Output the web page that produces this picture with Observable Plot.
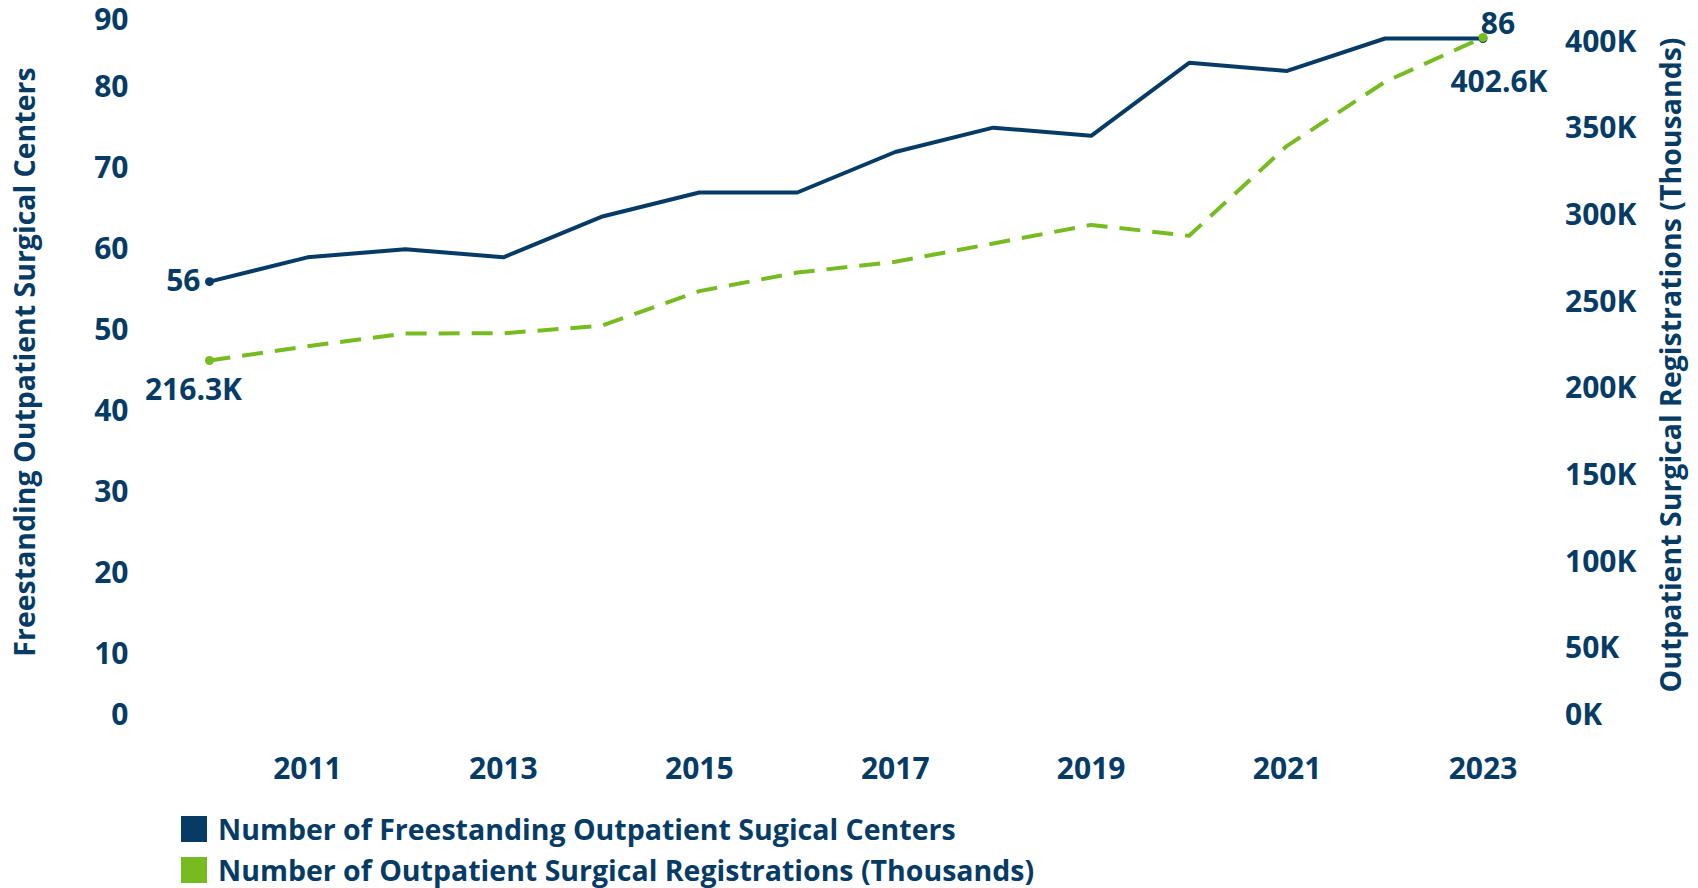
<!DOCTYPE html>
<html>
<head>
<meta charset="utf-8">
<script src="https://cdn.jsdelivr.net/npm/d3@7"></script>
<script src="https://cdn.jsdelivr.net/npm/@observablehq/plot@0.6"></script>
<style>
  html, body { margin: 0; padding: 0; background: #fff; overflow: hidden; }
  body { width: 1698px; height: 888px; position: relative; font-family: "Open Sans", Lato, sans-serif; }
  #chart { position: absolute; left: 0; top: 0; }
  #legend { position: absolute; left: 181px; top: 808px; }
  .row { display: flex; align-items: center; height: 41px; font-size: 28.5px; font-weight: 700; color: #063b66; white-space: nowrap; }
  .sw { width: 26px; height: 26px; margin-right: 11px; flex: none; }
  .ytitle { position: absolute; white-space: nowrap; font-size: 28.5px; font-weight: 700; color: #063b66; transform: translate(-50%, -50%) rotate(-90deg); line-height: 1; }
</style>
</head>
<body>
<div id="chart"></div>
<div id="legend"></div>
<div id="ltitle" class="ytitle" style="left:24px; top:362px;"></div>
<div id="rtitle" class="ytitle" style="left:1670px; top:365px;"></div>
<script>
// ---- data ----
const years = [2010, 2011, 2012, 2013, 2014, 2015, 2016, 2017, 2018, 2019, 2020, 2021, 2022, 2023];
const centers = [56, 59, 60, 59, 64, 67, 67, 72, 75, 74, 83, 82, 86, 86];
const registrations = [216.3, 224.5, 231.9, 232.0, 236.3, 256.3, 267.0, 273.2, 283.8, 294.5, 288.2, 340.1, 377.0, 402.6];
const xTicks = [2011, 2013, 2015, 2017, 2019, 2021, 2023];
const leftTicks = [0, 10, 20, 30, 40, 50, 60, 70, 80, 90];
const rightTicks = [0, 50, 100, 150, 200, 250, 300, 350, 400];
const seriesNames = ["Number of Freestanding Outpatient Sugical Centers", "Number of Outpatient Surgical Registrations (Thousands)"];
const seriesColors = ["#063b66", "#76bc21"];
const leftTitle = "Freestanding Outpatient Surgical Centers";
const rightTitle = "Outpatient Surgical Registrations (Thousands)";
const leftMax = 90;
const rightMax = 420.7;

// ---- build ----
const navy = seriesColors[0], green = seriesColors[1];
const toLeft = v => v * leftMax / rightMax;
const fromLeft = v => Math.round(v * rightMax / leftMax) + "K";
const rows = years.map((y, i) => ({year: y, centers: centers[i], reg: registrations[i], regL: toLeft(registrations[i])}));
const first = rows[0], last = rows[rows.length - 1];

const W = 1698, H = 800;
const font = {fill: navy, fontSize: 30, fontWeight: 700};

const chart = Plot.plot({
  width: W,
  height: H,
  marginLeft: 209,
  marginRight: 215.5,
  marginTop: 5.6,
  marginBottom: H - 735,
  style: {fontFamily: "'Open Sans', Lato, sans-serif", background: "white", color: navy, overflow: "visible"},
  x: {type: "linear", domain: [2010, 2023]},
  y: {type: "linear", domain: [0, leftMax]},
  marks: [
    Plot.axisX(xTicks, {tickSize: 0, tickPadding: 22, tickFormat: d => String(d), label: null, ...font}),
    Plot.axisY(leftTicks.filter(t => t > 0 && t < leftMax), {anchor: "left", tickSize: 0, tickPadding: 81, label: null, ...font}),
    Plot.axisY([0], {anchor: "left", tickSize: 0, tickPadding: 81, label: null, dy: -20, ...font}),
    Plot.axisY([leftMax], {anchor: "left", tickSize: 0, tickPadding: 81, label: null, dy: 14.5, ...font}),
    Plot.axisY(rightTicks.filter(t => t > 0).map(toLeft), {anchor: "right", tickSize: 0, tickPadding: 82, label: null, tickFormat: fromLeft, ...font}),
    Plot.axisY([0], {anchor: "right", tickSize: 0, tickPadding: 82, label: null, dy: -20, tickFormat: fromLeft, ...font}),
    Plot.line(rows, {x: "year", y: "centers", stroke: navy, strokeWidth: 4}),
    Plot.line(rows, {x: "year", y: "regL", stroke: green, strokeWidth: 4, strokeDasharray: "21,12", strokeLinecap: "butt"}),
    Plot.dot([first, last], {x: "year", y: "centers", r: 4.5, fill: navy}),
    Plot.dot([first, last], {x: "year", y: "regL", r: 4.5, fill: green}),
    Plot.text([first], {x: "year", y: "centers", text: d => String(d.centers), textAnchor: "end", dx: -9, ...font}),
    Plot.text([last], {x: "year", y: "centers", text: d => String(d.centers), dx: 15, dy: -14, ...font}),
    Plot.text([first], {x: "year", y: "regL", text: d => d.reg.toFixed(1) + "K", dx: -16, dy: 30, ...font}),
    Plot.text([last], {x: "year", y: "regL", text: d => d.reg.toFixed(1) + "K", dx: 16, dy: 45, ...font})
  ]
});
document.getElementById("chart").append(chart);

document.getElementById("ltitle").textContent = leftTitle;
document.getElementById("rtitle").textContent = rightTitle;

const legend = document.getElementById("legend");
seriesNames.forEach((name, i) => {
  const row = document.createElement("div");
  row.className = "row";
  const sw = document.createElement("span");
  sw.className = "sw";
  sw.style.background = seriesColors[i];
  const label = document.createElement("span");
  label.textContent = name;
  row.append(sw, label);
  legend.append(row);
});
</script>
</body>
</html>
